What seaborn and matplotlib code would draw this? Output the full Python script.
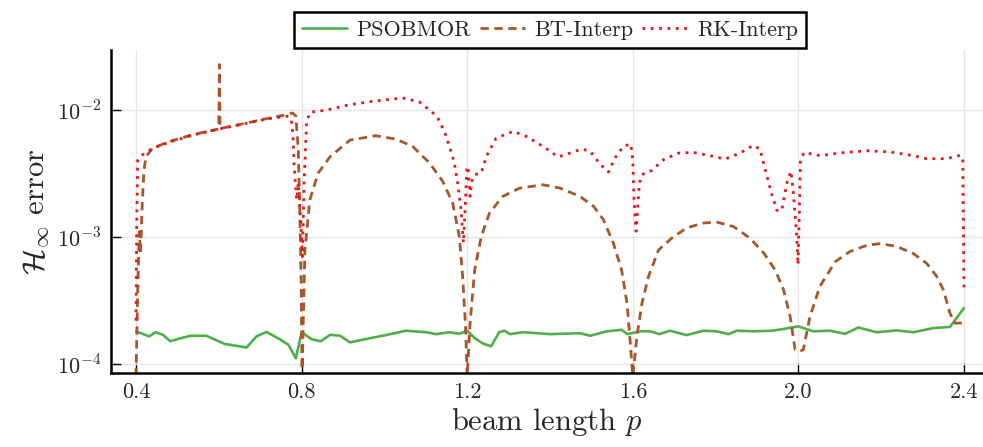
import matplotlib
matplotlib.use("Agg")
import matplotlib.pyplot as plt
import seaborn as sns

# PSOBMOR
pso_p = [0.400, 0.432, 0.447, 0.465, 0.483, 0.505, 0.533, 0.570, 0.614, 0.667,
         0.691, 0.715, 0.747, 0.768, 0.786, 0.800, 0.824, 0.846, 0.869, 0.893,
         0.917, 0.941, 0.996, 1.052, 1.101, 1.125, 1.157, 1.181, 1.200, 1.218,
         1.238, 1.258, 1.277, 1.290, 1.303, 1.335, 1.400, 1.472, 1.497, 1.537,
         1.573, 1.587, 1.618, 1.642, 1.664, 1.690, 1.730, 1.771, 1.803, 1.831,
         1.851, 1.891, 1.936, 1.965, 2.000, 2.036, 2.076, 2.113, 2.145, 2.189,
         2.237, 2.278, 2.326, 2.366, 2.400]
pso_err = [1.81e-4, 1.65e-4, 1.78e-4, 1.70e-4, 1.51e-4, 1.59e-4, 1.67e-4, 1.67e-4, 1.44e-4, 1.35e-4,
           1.65e-4, 1.79e-4, 1.57e-4, 1.42e-4, 1.11e-4, 1.78e-4, 1.57e-4, 1.51e-4, 1.70e-4, 1.67e-4,
           1.48e-4, 1.54e-4, 1.67e-4, 1.83e-4, 1.78e-4, 1.72e-4, 1.78e-4, 1.73e-4, 1.83e-4, 1.60e-4,
           1.45e-4, 1.38e-4, 1.78e-4, 1.83e-4, 1.72e-4, 1.78e-4, 1.72e-4, 1.75e-4, 1.67e-4, 1.81e-4,
           1.86e-4, 1.72e-4, 1.81e-4, 1.81e-4, 1.72e-4, 1.83e-4, 1.69e-4, 1.83e-4, 1.81e-4, 1.72e-4,
           1.83e-4, 1.81e-4, 1.83e-4, 1.89e-4, 1.98e-4, 1.81e-4, 1.83e-4, 1.73e-4, 1.94e-4, 1.78e-4,
           1.84e-4, 1.78e-4, 1.92e-4, 1.96e-4, 2.76e-4]

# BT-Interp
bt_p = [0.400, 0.404, 0.408, 0.411, 0.415, 0.419, 0.424, 0.440, 0.481, 0.537,
        0.600, 0.6015, 0.603, 0.659, 0.715, 0.756, 0.778, 0.786, 0.792, 0.796,
        0.799, 0.801, 0.808, 0.820, 0.840, 0.869, 0.917, 0.979, 1.028, 1.068,
        1.109, 1.141, 1.165, 1.181, 1.189, 1.196, 1.200, 1.207, 1.218, 1.234,
        1.254, 1.286, 1.327, 1.383, 1.424, 1.472, 1.505, 1.529, 1.553, 1.573,
        1.586, 1.594, 1.600, 1.610, 1.622, 1.638, 1.662, 1.694, 1.730, 1.771,
        1.803, 1.843, 1.883, 1.916, 1.944, 1.964, 1.980, 1.992, 2.004, 2.012,
        2.028, 2.052, 2.089, 2.125, 2.165, 2.197, 2.237, 2.278, 2.310, 2.334,
        2.350, 2.366, 2.378, 2.400]
bt_err = [8.0e-5, 3.5e-4, 1.1e-3, 7.5e-4, 1.8e-3, 3.3e-3, 4.3e-3, 5.0e-3, 5.66e-3, 6.4e-3,
          7.1e-3, 2.28e-2, 7.15e-3, 7.8e-3, 8.55e-3, 9.08e-3, 9.47e-3, 9.0e-3, 4.9e-3, 1.46e-3,
          4.3e-4, 8.0e-5, 7.9e-4, 1.97e-3, 3.19e-3, 4.3e-3, 5.8e-3, 6.28e-3, 5.9e-3, 5.18e-3,
          3.83e-3, 2.74e-3, 1.85e-3, 1.01e-3, 4.9e-4, 1.98e-4, 8.0e-5, 2.1e-4, 5.5e-4, 1.01e-3,
          1.55e-3, 2.09e-3, 2.43e-3, 2.58e-3, 2.43e-3, 2.09e-3, 1.75e-3, 1.37e-3, 8.97e-4, 5.5e-4,
          3.0e-4, 1.46e-4, 8.0e-5, 1.65e-4, 3.0e-4, 4.9e-4, 7.9e-4, 9.8e-4, 1.18e-3, 1.29e-3,
          1.31e-3, 1.21e-3, 9.8e-4, 7.5e-4, 5.5e-4, 3.85e-4, 2.37e-4, 1.3e-4, 1.26e-4, 1.3e-4,
          2.37e-4, 4.09e-4, 6.4e-4, 7.7e-4, 8.6e-4, 8.87e-4, 8.45e-4, 7.4e-4, 6.2e-4, 4.9e-4,
          3.85e-4, 2.52e-4, 2.1e-4, 2.1e-4]

# RK-Interp
rk_p = [0.400, 0.402, 0.404, 0.416, 0.440, 0.481, 0.537, 0.602, 0.659, 0.715,
        0.765, 0.775, 0.779, 0.782, 0.788, 0.792, 0.798, 0.802, 0.806, 0.812,
        0.820, 0.861, 0.915, 0.971, 1.028, 1.048, 1.084, 1.113, 1.129, 1.145,
        1.157, 1.169, 1.177, 1.185, 1.191, 1.196, 1.199, 1.202, 1.207, 1.211,
        1.218, 1.234, 1.246, 1.270, 1.311, 1.343, 1.383, 1.420, 1.448, 1.476,
        1.497, 1.521, 1.541, 1.557, 1.577, 1.595, 1.600, 1.603, 1.608, 1.612,
        1.616, 1.622, 1.646, 1.674, 1.710, 1.746, 1.787, 1.823, 1.859, 1.891,
        1.907, 1.920, 1.936, 1.948, 1.960, 1.972, 1.982, 1.988, 1.996, 1.999,
        2.002, 2.005, 2.014, 2.052, 2.101, 2.165, 2.221, 2.278, 2.310, 2.358,
        2.390, 2.397, 2.400]
rk_err = [2.2e-4, 1.5e-3, 4.0e-3, 4.45e-3, 5.0e-3, 5.6e-3, 6.35e-3, 7.1e-3, 7.75e-3, 8.5e-3,
          8.95e-3, 8.5e-3, 6.5e-3, 3.6e-3, 1.97e-3, 2.66e-3, 1.29e-3, 7.0e-4, 2.66e-3, 7.9e-3,
          9.6e-3, 1.0e-2, 1.10e-2, 1.17e-2, 1.23e-2, 1.24e-2, 1.16e-2, 9.8e-3, 8.65e-3, 6.8e-3,
          5.18e-3, 3.83e-3, 2.66e-3, 1.64e-3, 9.0e-4, 1.97e-3, 3.39e-3, 3.6e-3, 2.09e-3, 2.74e-3,
          3.1e-3, 3.19e-3, 4.3e-3, 6.0e-3, 6.8e-3, 6.2e-3, 5.18e-3, 4.27e-3, 4.58e-3, 4.93e-3,
          4.74e-3, 3.75e-3, 3.25e-3, 4.19e-3, 5.18e-3, 5.4e-3, 4.06e-3, 1.97e-3, 1.11e-3, 1.74e-3,
          2.66e-3, 3.1e-3, 3.35e-3, 4.06e-3, 4.58e-3, 4.64e-3, 4.37e-3, 4.11e-3, 4.58e-3, 5.27e-3,
          4.93e-3, 3.39e-3, 2.15e-3, 1.62e-3, 1.62e-3, 2.66e-3, 3.3e-3, 2.2e-3, 1.01e-3, 6.05e-4,
          1.46e-3, 4.06e-3, 4.64e-3, 4.37e-3, 4.6e-3, 4.78e-3, 4.68e-3, 4.37e-3, 4.14e-3, 4.14e-3,
          4.4e-3, 4.2e-3, 3.9e-4]

x_ticks = [0.4, 0.8, 1.2, 1.6, 2.0, 2.4]
x_tick_labels = ["0.4", "0.8", "1.2", "1.6", "2.0", "2.4"]
y_ticks = [1e-4, 1e-3, 1e-2]
y_tick_labels = [r"$10^{-4}$", r"$10^{-3}$", r"$10^{-2}$"]

sns.set_theme(style="white")
plt.rcParams["font.family"] = "serif"
plt.rcParams["font.serif"] = ["cmr10"]
plt.rcParams["mathtext.fontset"] = "cm"
plt.rcParams["axes.formatter.use_mathtext"] = True
plt.rcParams["axes.unicode_minus"] = False

fig = plt.figure(figsize=(9.83, 4.47), dpi=100)
ax = fig.add_axes([111 / 983, 74 / 447, 872 / 983, 323 / 447])

sns.lineplot(x=pso_p, y=pso_err, ax=ax, color="#4daf4a", lw=1.9,
             sort=False, estimator=None, label="PSOBMOR")
sns.lineplot(x=bt_p, y=bt_err, ax=ax, color="#a65628", lw=2.0,
             linestyle=(0, (3.0, 2.0)), sort=False, estimator=None, label="BT-Interp")
sns.lineplot(x=rk_p, y=rk_err, ax=ax, color="#e8141a", lw=2.0,
             linestyle=(0, (1.0, 2.0)), sort=False, estimator=None, label="RK-Interp")

ax.set_yscale("log")
ax.set_xlim(0.3396, 2.4459)
ax.set_ylim(8.5e-5, 2.97e-2)
ax.set_xticks(x_ticks, x_tick_labels)
ax.set_yticks(y_ticks, y_tick_labels)
ax.minorticks_off()
ax.tick_params(direction="in", length=7, width=1, color="black",
               labelsize=16, pad=7, bottom=True, left=True)
ax.grid(True, color="#e6e6e6", lw=1)
for side in ["top", "right"]:
    ax.spines[side].set_visible(False)
for side in ["left", "bottom"]:
    ax.spines[side].set_color("black")
    ax.spines[side].set_linewidth(1.8)

ax.set_xlabel("beam length $p$", fontsize=22, labelpad=3)
ax.set_ylabel(r"$\mathcal{H}_\infty$ error", fontsize=22, labelpad=4)

handles, labels = ax.get_legend_handles_labels()
ax.get_legend().remove()
leg = fig.legend(handles, labels, loc="upper center", bbox_to_anchor=(550 / 983, 0.997),
                 ncol=3, fontsize=16, frameon=True, fancybox=False, framealpha=1,
                 edgecolor="black", handlelength=2.0, handletextpad=0.45,
                 columnspacing=0.4, borderpad=0.35)
leg.get_frame().set_linewidth(1.8)

fig.savefig("out.png", dpi=100)
